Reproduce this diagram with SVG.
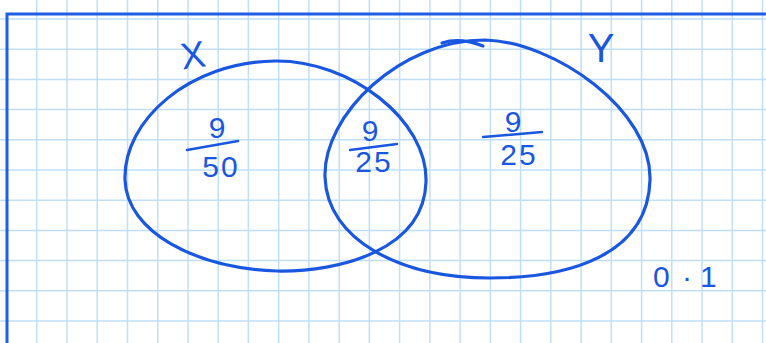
<svg xmlns="http://www.w3.org/2000/svg" width="766" height="343" viewBox="0 0 766 343">
<style>
.grid line{stroke:#bfdff8;stroke-width:1.5}
.frame{stroke:#1f5fe4;stroke-width:3;fill:none}
.set{fill:none;stroke:#1a57e0;stroke-width:3.2;stroke-linecap:round;stroke-linejoin:round}
.bar{stroke:#1a57e0;stroke-width:2.5;stroke-linecap:round}
.hand{font-family:"Liberation Sans",Arial,sans-serif;fill:#1a57e0}
.num{font-size:30px;text-anchor:middle}
</style>
<rect width="766" height="343" fill="#ffffff"/>
<g id="grid" class="grid">
<line x1="36.7" y1="0" x2="36.7" y2="343"/><line x1="67" y1="0" x2="67" y2="343"/><line x1="97.2" y1="0" x2="97.2" y2="343"/><line x1="127.5" y1="0" x2="127.5" y2="343"/><line x1="157.7" y1="0" x2="157.7" y2="343"/><line x1="188" y1="0" x2="188" y2="343"/><line x1="218.2" y1="0" x2="218.2" y2="343"/><line x1="248.4" y1="0" x2="248.4" y2="343"/><line x1="278.7" y1="0" x2="278.7" y2="343"/><line x1="308.9" y1="0" x2="308.9" y2="343"/><line x1="339.2" y1="0" x2="339.2" y2="343"/><line x1="369.4" y1="0" x2="369.4" y2="343"/><line x1="399.6" y1="0" x2="399.6" y2="343"/><line x1="429.9" y1="0" x2="429.9" y2="343"/><line x1="460.1" y1="0" x2="460.1" y2="343"/><line x1="490.4" y1="0" x2="490.4" y2="343"/><line x1="520.6" y1="0" x2="520.6" y2="343"/><line x1="550.8" y1="0" x2="550.8" y2="343"/><line x1="581.1" y1="0" x2="581.1" y2="343"/><line x1="611.3" y1="0" x2="611.3" y2="343"/><line x1="641.6" y1="0" x2="641.6" y2="343"/><line x1="671.8" y1="0" x2="671.8" y2="343"/><line x1="702" y1="0" x2="702" y2="343"/><line x1="732.3" y1="0" x2="732.3" y2="343"/><line x1="762.5" y1="0" x2="762.5" y2="343"/>
<line x1="0" y1="19" x2="766" y2="19"/><line x1="0" y1="49.2" x2="766" y2="49.2"/><line x1="0" y1="79.4" x2="766" y2="79.4"/><line x1="0" y1="109.6" x2="766" y2="109.6"/><line x1="0" y1="139.8" x2="766" y2="139.8"/><line x1="0" y1="170" x2="766" y2="170"/><line x1="0" y1="200.2" x2="766" y2="200.2"/><line x1="0" y1="230.4" x2="766" y2="230.4"/><line x1="0" y1="260.6" x2="766" y2="260.6"/><line x1="0" y1="290.8" x2="766" y2="290.8"/><line x1="0" y1="321" x2="766" y2="321"/>
</g>
<path id="frame" class="frame" d="M7,343 V14 H766"/>
<g id="set-x">
<path class="set" d="M125,180 C123,120 190,62 275,61 C350,60 428,120 426,182 C424,250 340,272 277,271 C195,268 127,232 125,180 Z"/>
<text class="hand" x="193" y="68" font-size="37" text-anchor="middle" transform="rotate(-8 193 55)">X</text>
</g>
<g id="set-y">
<path class="set" d="M325,177 C323,115 400,40 485,40 C555,42 652,110 650,180 C648,255 570,278 490,278 C400,278 327,240 325,177 Z"/>
<path class="set" d="M442,43 Q460,37 483,46"/>
<text class="hand" x="601" y="62" font-size="40" text-anchor="middle">Y</text>
</g>
<g id="region-x-only">
<text class="hand num" x="217" y="138">9</text>
<line class="bar" x1="187" y1="150" x2="238" y2="141"/>
<text class="hand num" x="221" y="177" letter-spacing="2">50</text>
</g>
<g id="region-both">
<text class="hand num" x="370" y="141" font-size="28">9</text>
<line class="bar" x1="350" y1="150" x2="397" y2="144"/>
<text class="hand num" x="374" y="172" font-size="28" letter-spacing="2">25</text>
</g>
<g id="region-y-only">
<text class="hand num" x="513" y="132">9</text>
<line class="bar" x1="483" y1="137" x2="542" y2="132"/>
<text class="hand num" x="519" y="165" letter-spacing="2">25</text>
</g>
<g id="outside">
<text class="hand" font-size="30" x="653 682 700" y="287">0·1</text>
</g>
</svg>
